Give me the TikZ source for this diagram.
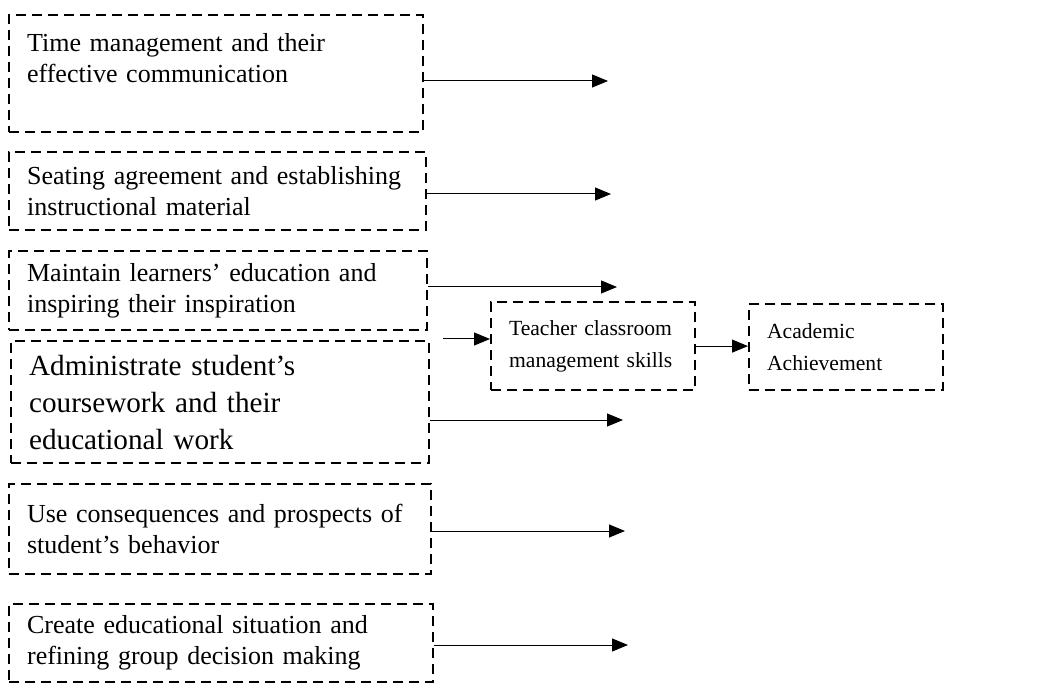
\documentclass[tikz,border=0pt]{standalone}
\usepackage{fontspec}
\setmainfont{Liberation Serif}
\usepackage{tikz}
\usetikzlibrary{positioning}
\usetikzlibrary{arrows.meta}
\tikzset{dashbox/.style={draw, dash pattern=on 5pt off 3pt, line width=1.1pt,
anchor=north west, align=left, inner xsep=9pt, inner ysep=0pt,
font=\fontsize{13}{15.5}\selectfont},
arr/.style={line width=0.5pt, -{Triangle[length=8pt,width=6.5pt]}}}

\begin{document}
\begin{tikzpicture}[x=1pt, y=-1pt]
\useasboundingbox (0,0) rectangle (523.5,341.5);
\node[dashbox, minimum width=207pt, minimum height=58.5pt, text width=189pt] (time) at (4,7)
  {Time management and their\\effective communication\\~};
\node[dashbox, minimum width=208.5pt, minimum height=39pt, text width=190.5pt] (seat) at (4,75.5)
  {Seating agreement and establishing\\instructional material};
\node[dashbox, minimum width=209pt, minimum height=39.5pt, text width=191pt] (learn) at (4,125)
  {Maintain learners' education and\\inspiring their inspiration};
\node[dashbox, minimum width=209pt, minimum height=61pt, text width=191pt,
  font=\fontsize{14.6}{18.5}\selectfont] (admin) at (5,170)
  {Administrate student's\\coursework and their\\educational work};
\node[dashbox, minimum width=211pt, minimum height=45pt, text width=193pt] (conseq) at (4,241.5)
  {Use consequences and prospects of\\student's behavior};
\node[dashbox, minimum width=212pt, minimum height=39pt, text width=194pt] (group) at (4,301.5)
  {Create educational situation and\\refining group decision making};
\node[dashbox, minimum width=102pt, minimum height=44pt, text width=84pt,
  font=\fontsize{10.8}{16}\selectfont] (skills) at (245,150.5)
  {Teacher classroom\\management skills};
\node[dashbox, minimum width=97pt, minimum height=43pt, text width=79pt,
  font=\fontsize{10.8}{16}\selectfont] (achieve) at (374,151.5)
  {Academic\\Achievement};

\coordinate (t1) at (304,40.5);
\coordinate (t2) at (305.5,97);
\coordinate (t3) at (308.5,143.5);
\coordinate (t4) at (311.5,210);
\coordinate (t5) at (312.5,265.5);
\coordinate (t6) at (314,322.5);
\coordinate (s0) at (221.5,169.5);

\draw[arr] (time.east |- t1) -- (t1);
\draw[arr] (seat.east |- t2) -- (t2);
\draw[arr] (learn.east |- t3) -- (t3);
\draw[arr] (admin.east |- t4) -- (t4);
\draw[arr] (conseq.east |- t5) -- (t5);
\draw[arr] (group.east |- t6) -- (t6);
\draw[arr] (s0) -- (skills.west |- s0);
\draw[arr] (skills.east) -- (skills.east -| achieve.west);
\end{tikzpicture}
\end{document}
